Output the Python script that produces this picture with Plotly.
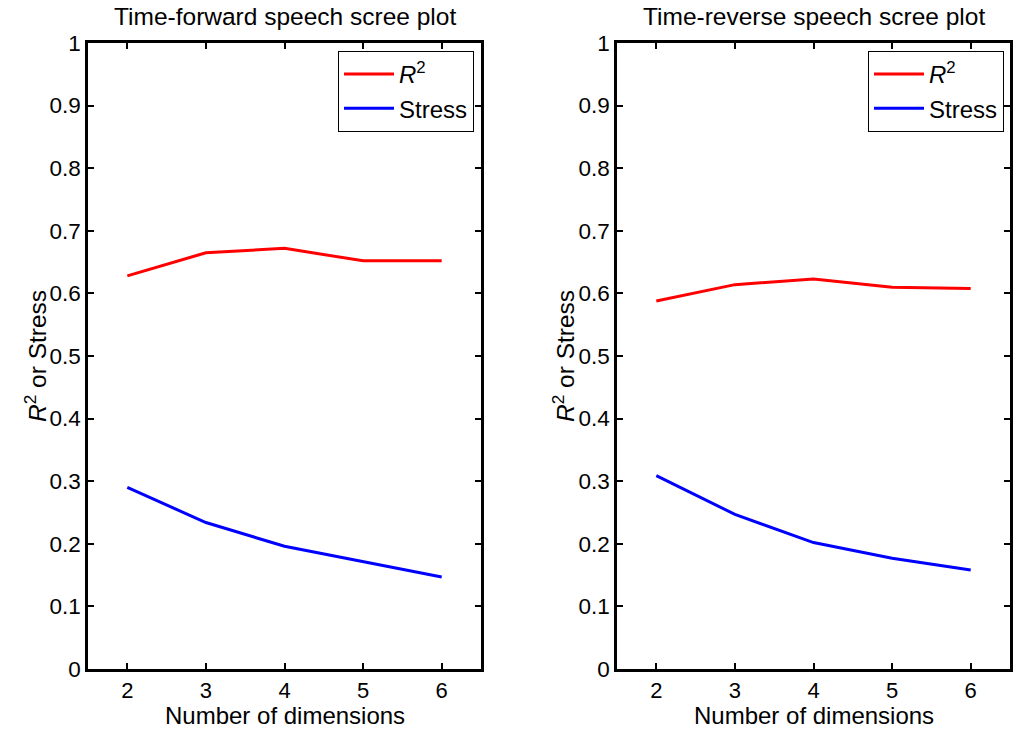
import plotly.graph_objects as go

dims = [2, 3, 4, 5, 6]
fwd_r2 = [0.628, 0.665, 0.672, 0.652, 0.652]
fwd_stress = [0.290, 0.234, 0.196, 0.171, 0.147]
rev_r2 = [0.588, 0.614, 0.623, 0.610, 0.608]
rev_stress = [0.309, 0.247, 0.202, 0.177, 0.158]
yticks = [0, 0.1, 0.2, 0.3, 0.4, 0.5, 0.6, 0.7, 0.8, 0.9, 1]
ytick_text = ["0", "0.1", "0.2", "0.3", "0.4", "0.5", "0.6", "0.7", "0.8", "0.9", "1"]
titles = ["Time-forward speech scree plot", "Time-reverse speech scree plot"]

W, H = 1013, 734
FONT = "Liberation Sans, Arial, sans-serif"

fig = go.Figure()
fig.add_trace(go.Scatter(x=dims, y=fwd_r2, mode="lines", name="<i>R</i><sup>2</sup>",
                         line=dict(color="#ff0000", width=3), xaxis="x", yaxis="y", legend="legend"))
fig.add_trace(go.Scatter(x=dims, y=fwd_stress, mode="lines", name="Stress",
                         line=dict(color="#0000ff", width=3), xaxis="x", yaxis="y", legend="legend"))
fig.add_trace(go.Scatter(x=dims, y=rev_r2, mode="lines", name="<i>R</i><sup>2</sup>",
                         line=dict(color="#ff0000", width=3), xaxis="x2", yaxis="y2", legend="legend2"))
fig.add_trace(go.Scatter(x=dims, y=rev_stress, mode="lines", name="Stress",
                         line=dict(color="#0000ff", width=3), xaxis="x2", yaxis="y2", legend="legend2"))

x1 = [88 / W, 481 / W]
x2 = [617 / W, 1010 / W]
yd = [1 - 669 / H, 1 - 43 / H]

common_x = dict(range=[1.5, 6.5], tickvals=dims, ticks="inside", ticklen=6, tickwidth=2,
                tickcolor="black", showline=True, linecolor="black", linewidth=2.5,
                mirror="ticks", showgrid=False, zeroline=False, automargin=False,
                tickfont=dict(family=FONT, size=22, color="black"))
common_y = dict(range=[0, 1], tickvals=yticks, ticktext=ytick_text, ticks="inside", ticklen=6,
                tickwidth=2, tickcolor="black", showline=True, linecolor="black", linewidth=2.5,
                mirror="ticks", showgrid=False, zeroline=False, automargin=False,
                tickfont=dict(family=FONT, size=22.5, color="black"))

legend_common = dict(bgcolor="white", bordercolor="black", borderwidth=1,
                     font=dict(family=FONT, size=24, color="black"),
                     xanchor="right", yanchor="top", tracegroupgap=0, itemwidth=50)

fig.update_layout(
    width=W, height=H, autosize=False,
    margin=dict(l=0, r=0, t=0, b=0, pad=0),
    paper_bgcolor="white", plot_bgcolor="white",
    xaxis=dict(domain=x1, anchor="y", **common_x),
    yaxis=dict(domain=yd, anchor="x", **common_y),
    xaxis2=dict(domain=x2, anchor="y2", **common_x),
    yaxis2=dict(domain=yd, anchor="x2", **common_y),
    legend=dict(x=474 / W, y=1 - 51 / H, **legend_common),
    legend2=dict(x=1004 / W, y=1 - 51 / H, **legend_common),
    showlegend=True,
)

anns = []
for i, (dom, t) in enumerate(zip([x1, x2], titles)):
    cx = (dom[0] + dom[1]) / 2
    anns.append(dict(text=t, x=cx, y=1 - 17 / H, xref="paper", yref="paper",
                     showarrow=False, xanchor="center", yanchor="middle",
                     font=dict(family=FONT, size=24.5, color="black")))
    anns.append(dict(text="Number of dimensions", x=cx, y=1 - 715 / H, xref="paper", yref="paper",
                     showarrow=False, xanchor="center", yanchor="middle",
                     font=dict(family=FONT, size=24, color="black")))
    lx = 35 if i == 0 else 563
    anns.append(dict(text="<i>R</i><sup>2</sup> or Stress", x=lx / W, y=(yd[0] + yd[1]) / 2,
                     xref="paper", yref="paper", showarrow=False, textangle=-90,
                     xanchor="center", yanchor="middle",
                     font=dict(family=FONT, size=24.5, color="black")))
fig.update_layout(annotations=anns)

fig.write_html("out.html")
